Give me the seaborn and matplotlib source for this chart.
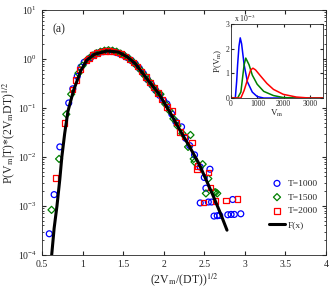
import matplotlib
matplotlib.use('Agg')
import matplotlib.pyplot as plt
import seaborn as sns

# main panel: scaled distributions, x = (2Vm/(DT))^(1/2)
blue_x = [0.59, 0.65, 0.72, 0.83, 0.88, 0.935, 0.98, 1.02, 1.10, 1.15, 1.20, 1.25, 1.30, 1.35,
          1.40, 1.45, 1.50, 1.55, 1.60, 1.65, 1.70, 1.75, 1.80, 1.85, 1.90, 1.95, 2.00, 2.04,
          2.10, 2.15, 2.22, 2.27, 2.32, 2.38, 2.45, 2.50, 2.57, 2.52, 2.45, 2.55, 2.59, 2.85,
          2.62, 2.66, 2.69, 2.79, 2.83, 2.87, 2.95]
blue_y = [2.7e-4, 1.7e-3, 0.016, 0.126, 0.245, 0.44, 0.68, 0.85, 1.06, 1.2, 1.32, 1.4, 1.44, 1.43,
          1.38, 1.3, 1.2, 1.07, 0.93, 0.79, 0.64, 0.5, 0.38, 0.3, 0.23, 0.18, 0.14, 0.12,
          0.075, 0.052, 0.041, 0.024, 0.017, 0.011, 0.0062, 0.0038, 0.0056, 0.0023, 0.00115, 0.0012, 0.0012, 0.00135,
          6.2e-4, 6.3e-4, 6.4e-4, 6.6e-4, 6.7e-4, 6.7e-4, 6.9e-4]

green_x = [0.618, 0.711, 0.80, 0.86, 0.95, 1.00, 1.06, 1.12, 1.17, 1.22, 1.27, 1.32, 1.37, 1.42,
           1.47, 1.52, 1.57, 1.62, 1.67, 1.72, 1.77, 1.82, 1.87, 1.92, 1.96, 2.02, 2.07, 2.12,
           2.17, 2.23, 2.30, 2.33, 2.37, 2.38, 2.48, 2.55, 2.52, 2.62, 2.64, 2.66]
green_y = [8.3e-4, 0.0091, 0.074, 0.19, 0.51, 0.73, 0.97, 1.17, 1.3, 1.4, 1.47, 1.5, 1.47, 1.4,
           1.28, 1.15, 1.02, 0.87, 0.72, 0.58, 0.45, 0.35, 0.27, 0.21, 0.19, 0.12, 0.088, 0.06,
           0.043, 0.03, 0.016, 0.028, 0.0091, 0.0079, 0.0071, 0.0036, 0.0018, 0.0019, 0.0019, 0.0018]

red_x = [0.667, 0.78, 0.875, 0.92, 0.97, 1.05, 1.08, 1.13, 1.18, 1.23, 1.28, 1.33, 1.38, 1.43,
         1.48, 1.53, 1.58, 1.63, 1.68, 1.73, 1.78, 1.83, 1.88, 1.93, 1.98, 2.04, 2.11, 2.16,
         2.20, 2.26, 2.35, 2.41, 2.42, 2.55, 2.58, 2.49, 2.64, 2.77, 2.91]
red_y = [3.7e-3, 0.049, 0.24, 0.37, 0.6, 0.93, 1.02, 1.2, 1.32, 1.4, 1.45, 1.45, 1.42, 1.35,
         1.25, 1.12, 0.98, 0.84, 0.69, 0.55, 0.43, 0.33, 0.26, 0.2, 0.15, 0.105, 0.086, 0.05,
         0.032, 0.026, 0.0195, 0.0057, 0.0065, 0.0048, 0.0024, 0.00117, 0.00126, 0.0013, 0.00138]

fx_x = [0.62, 0.65, 0.685, 0.72, 0.745, 0.78, 0.82, 0.89, 0.98, 1.05, 1.15, 1.30, 1.44, 1.55,
        1.65, 1.80, 1.94, 2.07, 2.20, 2.32, 2.43, 2.52, 2.61, 2.70, 2.78]
fx_y = [1e-4, 3.5e-4, 1e-3, 3.5e-3, 1e-2, 0.03, 0.085, 0.23, 0.58, 0.93, 1.25, 1.45, 1.38, 1.1,
        0.8, 0.38, 0.195, 0.085, 0.035, 0.016, 0.0075, 0.0035, 0.0016, 7e-4, 3.2e-4]

# inset: raw P(Vm), units of 1e-3
in_blue_v = [0, 160, 211, 248, 300, 348, 400, 496, 620, 807, 993, 1241, 3500]
in_blue_p = [0, 0, 0.66, 1.35, 2.1, 2.44, 2.2, 1.35, 0.66, 0.24, 0.06, 0, 0]
in_green_v = [0, 248, 372, 434, 496, 558, 683, 807, 993, 1241, 1613, 1986, 2500, 3500]
in_green_p = [0, 0, 0.24, 0.8, 1.35, 1.62, 1.35, 0.93, 0.56, 0.27, 0.1, 0.02, 0, 0]
in_red_v = [0, 372, 496, 620, 745, 832, 931, 1117, 1365, 1613, 1986, 2482, 2978, 3500]
in_red_p = [0, 0, 0.31, 0.73, 1.14, 1.21, 1.14, 0.9, 0.59, 0.35, 0.15, 0.04, 0, 0]

sns.set_style('ticks')
plt.rcParams['font.family'] = ['Liberation Serif', 'DejaVu Serif']
plt.rcParams['mathtext.fontset'] = 'stix'

fig = plt.figure(figsize=(3.33, 2.9), dpi=100)
ax = fig.add_axes([0.126, 0.121, 0.853, 0.845])

sns.scatterplot(x=blue_x, y=blue_y, ax=ax, marker='o', s=18, facecolor='none',
                edgecolor='#0000ff', linewidth=0.9, label='T=1000', zorder=3)
sns.scatterplot(x=green_x, y=green_y, ax=ax, marker='D', s=13, facecolor='none',
                edgecolor='#008000', linewidth=0.9, label='T=1500', zorder=3)
sns.scatterplot(x=red_x, y=red_y, ax=ax, marker='s', s=15, facecolor='none',
                edgecolor='#ff0000', linewidth=0.9, label='T=2000', zorder=3)
sns.lineplot(x=fx_x, y=fx_y, ax=ax, color='black', linewidth=2.2, label='F(x)',
             sort=False, estimator=None, zorder=4)

ax.set_yscale('log')
ax.set_xlim(0.5, 4)
ax.set_ylim(1e-4, 10)
ax.set_xticks([0.5, 1, 1.5, 2, 2.5, 3, 3.5, 4])
ax.set_xticklabels(['0.5', '1', '1.5', '2', '2.5', '3', '3.5', '4'])
ax.tick_params(which='both', direction='in', top=True, right=True, labelsize=7)
ax.tick_params(which='major', length=3)
ax.tick_params(which='minor', length=1.5)
ax.set_xlabel(r'(2V$_\mathrm{m}$/(DT))$^{1/2}$', fontsize=8.5, labelpad=2)
ax.set_ylabel(r'P(V$_\mathrm{m}$|T)*(2V$_\mathrm{m}$DT)$^{1/2}$', fontsize=8.5, labelpad=0)
ax.text(0.63, 4.1, '(a)', fontsize=8.5, va='center')
for sp in ax.spines.values():
    sp.set_linewidth(0.6)

leg = ax.legend(loc='lower right', bbox_to_anchor=(1.0, 0.07), frameon=False, fontsize=6.8,
                handlelength=1.6, handletextpad=0.3, labelspacing=0.55)

# inset
ins = fig.add_axes([0.694, 0.662, 0.276, 0.255])
sns.lineplot(x=in_blue_v, y=in_blue_p, ax=ins, color='#0000ff', linewidth=1.1, sort=False, estimator=None)
sns.lineplot(x=in_green_v, y=in_green_p, ax=ins, color='#008000', linewidth=1.1, sort=False, estimator=None)
sns.lineplot(x=in_red_v, y=in_red_p, ax=ins, color='#ff0000', linewidth=1.1, sort=False, estimator=None)
ins.set_xlim(0, 3500)
ins.set_ylim(0, 3)
ins.set_xticks([0, 1000, 2000, 3000])
ins.set_yticks([0, 1, 2, 3])
ins.tick_params(direction='in', top=True, right=True, labelsize=5.5, length=2, pad=1.5)
ins.set_xlabel(r'V$_\mathrm{m}$', fontsize=6.5, labelpad=0)
ins.set_ylabel(r'P(V$_\mathrm{m}$)', fontsize=6.5, labelpad=1)
ins.text(0.03, 1.0, r'x 10$^{-3}$', transform=ins.transAxes, fontsize=5.5, va='bottom')
for sp in ins.spines.values():
    sp.set_linewidth(0.6)

fig.savefig('out.png', dpi=100)
